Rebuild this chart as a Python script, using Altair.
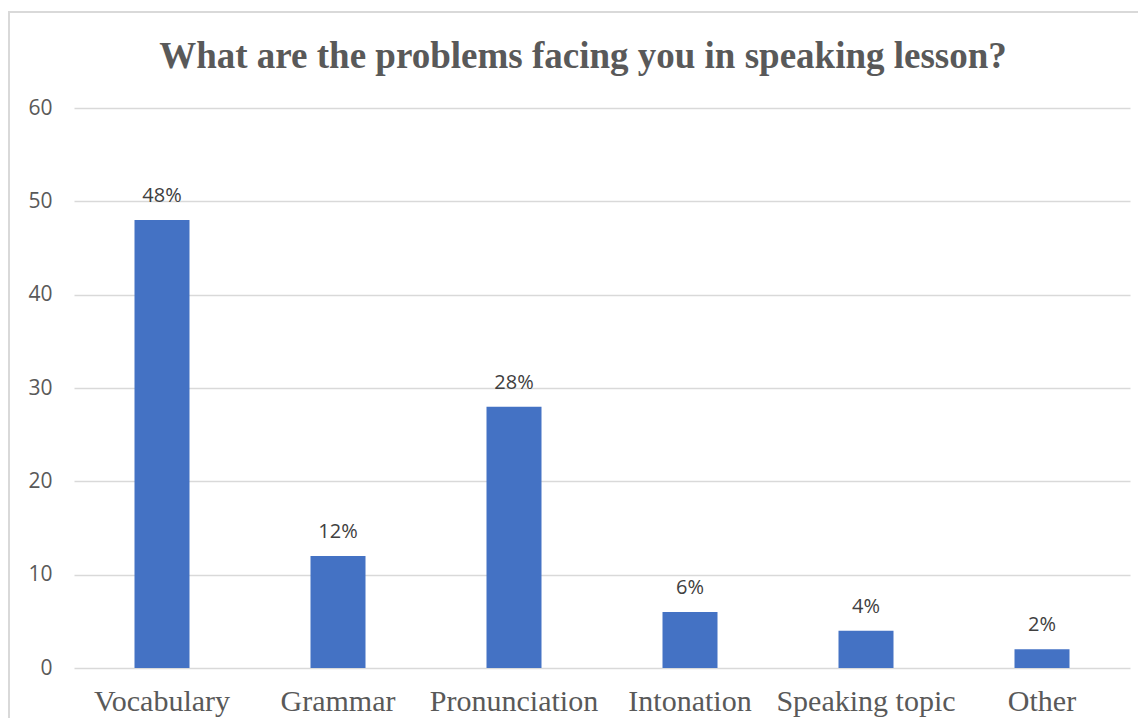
import altair as alt
import pandas as pd

title_text = "What are the problems facing you in speaking lesson?"
categories = ["Vocabulary", "Grammar", "Pronunciation", "Intonation", "Speaking topic", "Other"]
values = [48, 12, 28, 6, 4, 2]
labels = ["48%", "12%", "28%", "6%", "4%", "2%"]
y_ticks = [0, 10, 20, 30, 40, 50, 60]

df = pd.DataFrame({"category": categories, "value": values, "label": labels})

x = alt.X("category:N", sort=categories, title=None,
          scale=alt.Scale(paddingInner=0.6875, paddingOuter=0.34375),
          axis=alt.Axis(labelAngle=0, ticks=False, domain=False,
                        labelFont="Liberation Serif", labelFontSize=30,
                        labelColor="#595959", labelPadding=18))
y = alt.Y("value:Q", title=None,
          scale=alt.Scale(domain=[0, 60], nice=False),
          axis=alt.Axis(values=y_ticks, ticks=False, domain=False,
                        labelFont="Open Sans", labelFontSize=21,
                        labelColor="#595959", labelPadding=22,
                        gridColor="#d9d9d9", gridWidth=1.5))

border = alt.Chart(pd.DataFrame({"b": [0]})).mark_rect(
    fill=None, filled=False, stroke="#d9d9d9", strokeWidth=2
).encode(x=alt.value(-65), x2=alt.value(1100), y=alt.value(-96), y2=alt.value(700))

title = alt.Chart(pd.DataFrame({"t": [title_text]})).mark_text(
    font="Liberation Serif", fontSize=37, fontWeight="bold", color="#595959",
    baseline="alphabetic", align="center"
).encode(x=alt.value(509), y=alt.value(-40), text="t:N")

bars = alt.Chart(df).mark_bar(color="#4472C4").encode(x=x, y=y)

text = alt.Chart(df).mark_text(
    font="Open Sans", fontSize=20, color="#404040", baseline="alphabetic", dy=-18
).encode(x=alt.X("category:N", sort=categories), y="value:Q", text="label:N")

chart = alt.layer(bars, text, border, title).properties(
    width=1056, height=560,
    autosize=alt.AutoSizeParams(type="none"),
    padding={"left": 66, "top": 100, "right": 8, "bottom": 50},
).configure_view(stroke=None)

chart.save("out.html", embed_options={"renderer": "svg", "actions": False})
